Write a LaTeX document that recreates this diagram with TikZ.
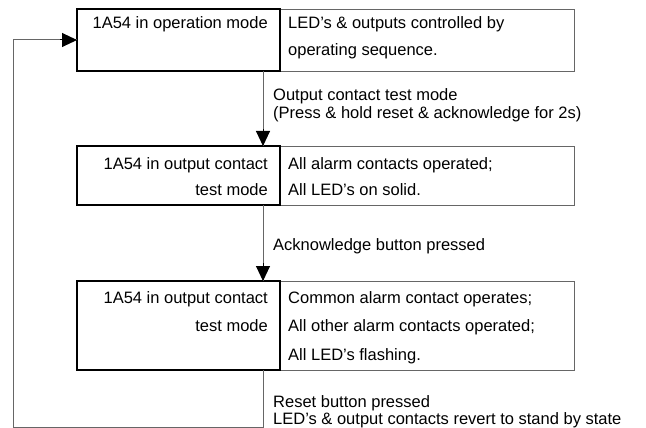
\documentclass[tikz,border=0pt]{standalone}
\usepackage{fontspec}
\setmainfont{Liberation Sans}
\usetikzlibrary{arrows.meta}
\begin{document}
\begin{tikzpicture}[x=1pt,y=-1pt,
  lcell/.style={draw=black,line width=1.6pt,anchor=north west,inner sep=0pt,outer sep=0pt,minimum width=203pt},
  rcell/.style={draw=black!60,line width=0.9pt,anchor=north west,inner sep=0pt,outer sep=0pt,minimum width=294pt},
  txt/.style={inner sep=0pt,font=\fontsize{16.5}{20}\selectfont},
  ltxt/.style={txt,anchor=base east},
  rtxt/.style={txt,anchor=base west},
  conn/.style={draw=black!60,line width=1pt},
  tiponly/.style={draw=black,line width=1pt,-{Triangle[length=15pt,width=14pt]}}
]
\useasboundingbox (0,0) rectangle (646,428);
% cells
\node[rcell,minimum height=62pt] (r1) at (280,9) {};
\node[lcell,minimum height=62pt] (l1) at (77,9) {};
\node[rcell,minimum height=59pt] (r2) at (280,146) {};
\node[lcell,minimum height=59pt] (l2) at (77,146) {};
\node[rcell,minimum height=89pt] (r3) at (280,281) {};
\node[lcell,minimum height=89pt] (l3) at (77,281) {};
% texts
\node[ltxt] (t1a) at (268,29) {1A54 in operation mode};
\node[rtxt] (t1b) at (288,29) {LED’s \& outputs controlled by};
\node[rtxt] (t1c) at (288,56) {operating sequence.};
\node[ltxt] (t2a) at (268,169) {1A54 in output contact};
\node[ltxt] (t2b) at (268,195) {test mode};
\node[rtxt] (t2c) at (288,169) {All alarm contacts operated;};
\node[rtxt] (t2d) at (288,195) {All LED’s on solid.};
\node[ltxt] (t3a) at (268,303) {1A54 in output contact};
\node[ltxt] (t3b) at (268,331) {test mode};
\node[rtxt] (t3c) at (288,303) {Common alarm contact operates;};
\node[rtxt] (t3d) at (288,331) {All other alarm contacts operated;};
\node[rtxt] (t3e) at (288,360) {All LED’s flashing.};
% transition labels
\node[rtxt] (e1a) at (273,101) {Output contact test mode};
\node[rtxt] (e1b) at (273,119) {(Press \& hold reset \& acknowledge for 2s)};
\node[rtxt] (e2) at (273,250) {Acknowledge button pressed};
\node[rtxt] (e3a) at (273,407) {Reset button pressed};
\node[rtxt] (e3b) at (273,424) {LED’s \& output contacts revert to stand by state};
% connectors
\coordinate (c1) at (263,0);
\coordinate (corner) at (13,427);
\draw[conn] (c1 |- l1.south) -- (c1 |- l2.north);
\draw[conn] (c1 |- l2.south) -- (c1 |- l3.north);
\draw[conn] (c1 |- l3.south) |- (corner) |- (l1.west);
% arrowheads
\draw[tiponly,shorten <=58pt] (c1 |- l1.south) -- (c1 |- l2.north);
\draw[tiponly,shorten <=58pt] (c1 |- l2.south) -- (c1 |- l3.north);
\draw[tiponly,shorten <=47pt] (corner |- l1.west) -- (l1.west);
\end{tikzpicture}
\end{document}
